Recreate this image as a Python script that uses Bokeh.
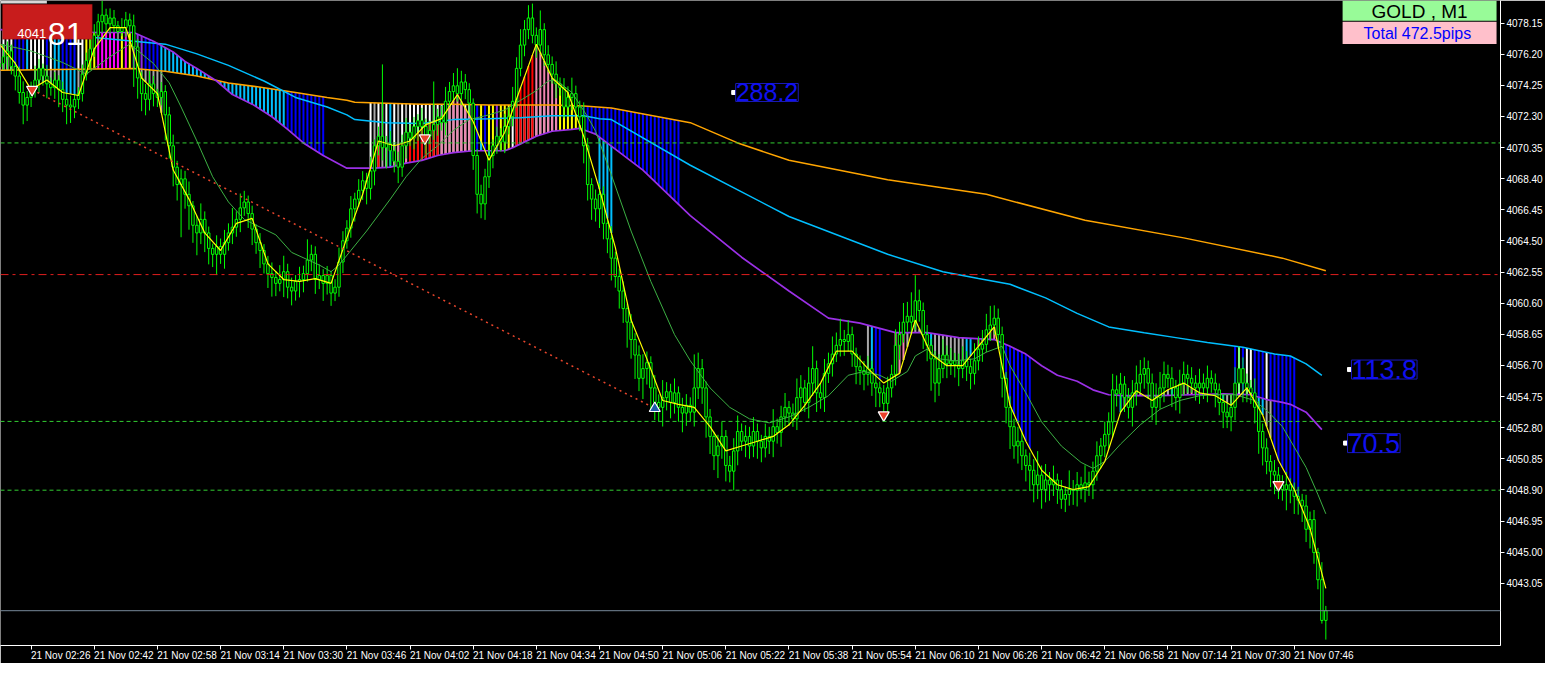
import numpy as np
from bokeh.plotting import figure
from bokeh.models import (Range1d, LinearAxis, FixedTicker, PrintfTickFormatter, Span,
                          Label, BoxAnnotation, ColumnDataSource)
from bokeh.embed import file_html
from bokeh.resources import INLINE

# ---------------- data (GOLD, M1, 21 Nov 02:18 .. 07:54, one bar per minute) ----------------
first_open = 4075.40
closes = [
 4075.62, 4076.04, 4076.40, 4075.43, 4074.83, 4073.80, 4073.01, 4073.49, 4073.98, 4074.58,
 4075.31, 4074.83, 4074.34, 4074.10, 4074.58, 4073.98, 4073.37, 4073.01, 4072.89, 4073.37,
 4073.73, 4074.95, 4075.80, 4076.53, 4077.38, 4078.23, 4078.65, 4078.10, 4078.47, 4077.98,
 4077.62, 4077.86, 4078.35, 4077.98, 4076.65, 4074.71, 4073.73, 4073.37, 4074.34, 4073.73,
 4073.49, 4073.86, 4072.40, 4070.46, 4069.12, 4068.03, 4068.39, 4067.42, 4066.70, 4065.48,
 4065.00, 4065.85, 4065.00, 4064.03, 4063.66, 4064.15, 4063.66, 4064.39, 4065.00, 4065.36,
 4065.85, 4066.57, 4066.94, 4066.21, 4065.24, 4064.39, 4063.90, 4063.06, 4062.45, 4062.21,
 4061.84, 4062.08, 4062.57, 4061.60, 4061.36, 4061.96, 4062.08, 4062.45, 4063.30, 4063.66,
 4062.08, 4062.33, 4061.84, 4062.33, 4061.23, 4061.60, 4063.18, 4064.51, 4065.30, 4066.51,
 4067.12, 4067.67, 4068.27, 4067.79, 4068.88, 4070.46, 4071.06, 4070.34, 4070.58, 4070.15,
 4069.49, 4069.12, 4070.46, 4071.31, 4070.94, 4071.67, 4072.04, 4071.67, 4071.06, 4071.43,
 4071.79, 4072.28, 4071.91, 4073.25, 4073.86, 4074.22, 4073.73, 4074.46, 4073.98, 4073.13,
 4069.85, 4067.42, 4066.82, 4068.52, 4069.85, 4070.46, 4071.06, 4070.70, 4071.67, 4072.28,
 4073.25, 4075.31, 4076.77, 4077.74, 4078.47, 4077.38, 4076.77, 4077.74, 4076.16, 4075.56,
 4074.95, 4074.34, 4074.10, 4072.89, 4073.49, 4073.73, 4072.89, 4072.28, 4070.46, 4068.03,
 4067.12, 4066.51, 4067.42, 4065.60, 4064.63, 4063.42, 4062.27, 4061.36, 4060.26, 4059.41,
 4058.32, 4057.35, 4055.89, 4056.50, 4056.87, 4055.29, 4054.38, 4054.07, 4054.68, 4055.05,
 4054.38, 4054.98, 4054.07, 4053.71, 4054.20, 4053.77, 4055.29, 4056.50, 4055.29, 4053.47,
 4052.25, 4051.04, 4051.65, 4052.25, 4050.43, 4050.07, 4051.34, 4052.56, 4051.95, 4052.25,
 4051.65, 4052.56, 4051.95, 4051.53, 4052.25, 4051.95, 4052.86, 4052.50, 4053.47, 4054.07,
 4053.71, 4053.35, 4054.68, 4055.29, 4054.38, 4055.59, 4056.50, 4054.98, 4054.68, 4056.20,
 4056.80, 4057.41, 4057.96, 4058.32, 4058.20, 4058.63, 4057.41, 4056.62, 4056.38, 4056.14,
 4056.50, 4055.59, 4055.29, 4054.98, 4054.32, 4055.29, 4056.14, 4057.96, 4058.63, 4059.41,
 4059.78, 4059.41, 4060.75, 4060.14, 4058.63, 4057.96, 4057.11, 4055.59, 4056.50, 4057.35,
 4056.80, 4056.99, 4056.74, 4056.50, 4056.99, 4056.62, 4056.20, 4056.99, 4057.72, 4058.02,
 4058.93, 4059.23, 4059.66, 4058.63, 4055.89, 4054.07, 4052.86, 4051.65, 4051.95, 4051.04,
 4050.43, 4050.13, 4049.22, 4049.83, 4048.92, 4049.52, 4049.22, 4049.52, 4048.92, 4048.31,
 4048.61, 4048.92, 4048.86, 4049.22, 4048.92, 4049.34, 4049.22, 4050.07, 4051.04, 4051.65,
 4052.38, 4053.16, 4055.17, 4054.92, 4055.53, 4054.68, 4054.07, 4054.98, 4055.59, 4056.14,
 4056.50, 4055.59, 4054.07, 4054.68, 4055.29, 4056.14, 4055.89, 4055.29, 4054.68, 4055.53,
 4056.14, 4055.89, 4055.59, 4055.29, 4055.59, 4055.29, 4055.89, 4055.59, 4055.17, 4054.38,
 4053.77, 4053.47, 4054.07, 4055.59, 4056.50, 4055.59, 4055.29, 4054.98, 4054.07, 4052.56,
 4051.53, 4050.68, 4050.07, 4049.83, 4049.22, 4048.92, 4049.22, 4048.86, 4048.49, 4048.25,
 4047.89, 4046.43, 4047.04, 4044.97, 4043.27, 4040.72, 4041.33]

upper_wick = [
 0.5, 0.8, 0.6, 0.4, 0.3, 0.6, 0.7, 0.4, 0.5, 0.9,
 0.6, 0.3, 0.7, 0.4, 0.5, 0.3, 0.5, 0.4, 0.6, 0.3,
 0.4, 0.6, 0.5, 0.8, 0.7, 0.5, 0.9, 0.4, 0.6, 0.5,
 0.3, 0.6, 0.5, 0.4, 0.7, 0.5, 0.4, 0.6, 0.8, 0.5,
 0.3, 0.6, 0.4, 0.5, 0.7, 0.4, 0.6, 0.5, 0.8, 0.3,
 0.6, 1.0, 0.5, 0.4, 0.3, 0.7, 0.5, 0.8, 0.6, 1.2,
 0.5, 0.9, 0.7, 0.4, 0.5, 0.3, 0.6, 0.4, 0.5, 0.7,
 0.4, 0.9, 1.0, 0.5, 0.6, 0.4, 0.8, 0.5, 1.3, 0.6,
 0.5, 0.7, 0.4, 0.6, 0.3, 0.5, 0.9, 0.6, 0.5, 0.8,
 0.4, 0.7, 0.6, 0.5, 0.9, 0.4, 0.6, 4.5, 0.5, 0.8,
 0.4, 0.6, 0.7, 0.9, 0.5, 0.6, 0.4, 0.8, 0.5, 0.6,
 2.7, 0.5, 0.7, 0.9, 0.6, 0.8, 1.1, 0.7, 0.5, 0.4,
 0.3, 0.4, 0.6, 0.5, 0.7, 0.4, 0.6, 0.5, 0.8, 0.6,
 0.9, 0.7, 1.0, 0.6, 0.8, 0.9, 0.5, 1.2, 0.4, 0.6,
 0.5, 0.8, 0.4, 0.6, 0.7, 1.0, 0.5, 0.4, 0.9, 0.5,
 0.4, 0.6, 0.7, 0.5, 0.3, 0.8, 0.4, 0.5, 0.6, 0.3,
 0.5, 0.4, 0.6, 0.9, 0.7, 0.4, 0.8, 0.5, 1.1, 0.6,
 0.5, 0.9, 0.4, 0.6, 0.7, 0.5, 2.1, 1.0, 0.6, 0.4,
 0.5, 0.3, 0.7, 0.9, 0.4, 0.6, 0.8, 1.0, 0.5, 0.7,
 0.6, 0.9, 0.5, 0.4, 0.8, 0.6, 1.1, 0.5, 0.7, 0.9,
 0.4, 0.6, 1.2, 0.8, 0.5, 1.0, 1.4, 0.5, 0.6, 0.9,
 0.7, 1.1, 0.8, 1.3, 0.6, 0.9, 0.5, 0.4, 0.7, 0.6,
 0.8, 0.5, 0.6, 0.4, 0.5, 0.7, 0.6, 1.0, 0.8, 1.2,
 0.9, 1.5, 1.6, 0.7, 0.5, 0.6, 0.4, 0.5, 0.9, 1.0,
 0.6, 0.8, 0.5, 0.7, 0.9, 0.6, 0.5, 1.1, 0.8, 0.9,
 1.0, 1.2, 0.8, 0.6, 0.5, 0.4, 0.7, 0.5, 0.9, 0.6,
 0.4, 0.8, 0.7, 1.5, 0.6, 1.0, 0.5, 0.9, 0.4, 0.6,
 0.5, 1.2, 0.6, 0.8, 0.5, 1.1, 0.7, 0.6, 0.9, 0.5,
 0.8, 0.6, 1.0, 0.9, 0.7, 0.5, 0.6, 0.8, 1.1, 0.9,
 0.7, 0.5, 0.6, 0.9, 1.0, 0.8, 0.6, 0.7, 0.5, 0.9,
 0.8, 0.6, 0.7, 0.5, 0.9, 0.6, 0.8, 0.5, 0.6, 0.4,
 0.5, 0.6, 0.8, 1.0, 1.4, 0.7, 0.6, 0.5, 0.9, 0.4,
 0.5, 0.6, 0.4, 0.7, 0.5, 0.6, 0.8, 0.4, 0.5, 0.6,
 0.4, 0.7, 0.5, 0.6, 0.3, 1.1, 0.3]

lower_wick = [
 0.6, 0.4, 0.8, 0.5, 0.9, 0.7, 1.2, 1.0, 0.6, 0.5,
 0.8, 0.6, 0.9, 0.5, 0.7, 1.1, 0.8, 1.2, 1.0, 0.7,
 0.6, 0.5, 0.4, 0.6, 0.5, 0.4, 0.7, 0.5, 0.6, 0.4,
 0.5, 0.3, 0.6, 0.5, 2.5, 1.3, 1.1, 1.0, 0.7, 0.8,
 0.6, 0.5, 1.6, 0.8, 1.2, 1.0, 3.3, 0.9, 1.5, 1.1,
 1.4, 0.7, 1.2, 1.0, 0.8, 1.3, 0.6, 0.9, 0.5, 0.7,
 0.6, 0.8, 0.5, 0.9, 1.0, 0.7, 1.1, 0.6, 0.9, 1.2,
 0.8, 0.5, 1.1, 0.7, 0.9, 0.6, 1.0, 0.8, 0.5, 0.7,
 0.9, 0.6, 1.1, 0.7, 0.8, 0.5, 0.6, 0.7, 0.5, 0.6,
 0.8, 0.5, 0.6, 1.0, 0.7, 0.9, 0.6, 0.8, 1.3, 0.9,
 0.7, 1.0, 0.6, 0.8, 0.5, 0.7, 0.9, 0.6, 1.1, 0.5,
 0.6, 0.7, 0.5, 0.8, 0.4, 0.6, 0.5, 0.7, 0.6, 0.8,
 0.9, 1.2, 0.9, 1.0, 0.7, 0.8, 0.5, 0.6, 0.7, 0.5,
 0.6, 0.4, 0.5, 0.7, 0.6, 0.5, 0.8, 0.6, 0.7, 0.5,
 0.6, 0.9, 0.5, 0.7, 0.6, 0.8, 0.5, 0.9, 1.1, 1.0,
 1.3, 0.8, 1.2, 1.0, 0.9, 1.4, 0.7, 1.1, 0.9, 1.6,
 1.2, 1.5, 0.8, 1.3, 1.0, 1.4, 1.1, 0.9, 1.2, 0.8,
 1.0, 0.7, 0.9, 1.2, 0.8, 0.6, 0.9, 0.7, 1.0, 1.3,
 1.1, 0.9, 1.4, 0.8, 1.0, 0.7, 1.2, 0.9, 0.6, 1.0,
 0.8, 0.7, 1.1, 0.9, 0.6, 0.8, 1.0, 0.7, 0.9, 0.6,
 0.8, 0.5, 0.7, 0.9, 0.6, 1.0, 0.8, 1.2, 0.7, 0.9,
 0.6, 0.8, 0.5, 0.7, 0.9, 0.6, 0.8, 1.1, 0.9, 1.0,
 0.7, 0.8, 1.2, 0.9, 1.0, 0.8, 0.6, 0.7, 0.9, 0.5,
 0.6, 0.8, 0.5, 0.7, 0.9, 1.0, 2.0, 1.2, 0.8, 0.6,
 0.9, 0.7, 0.8, 1.1, 0.6, 0.9, 1.0, 0.7, 0.6, 0.8,
 0.5, 0.7, 0.6, 0.9, 1.2, 1.0, 1.4, 0.8, 1.1, 0.9,
 1.0, 1.3, 1.1, 0.9, 1.2, 0.8, 1.0, 0.7, 0.9, 0.6,
 0.8, 0.7, 0.9, 1.0, 0.6, 0.8, 0.7, 0.9, 0.6, 0.8,
 0.7, 0.9, 1.0, 0.8, 1.1, 0.9, 0.7, 1.2, 0.8, 0.6,
 0.9, 1.0, 0.8, 1.1, 0.7, 0.9, 0.6, 1.2, 0.8, 1.0,
 0.7, 0.9, 0.6, 0.8, 1.0, 0.7, 0.9, 0.6, 1.1, 0.8,
 1.0, 0.7, 0.9, 0.8, 0.6, 1.2, 0.9, 0.7, 1.0, 1.4,
 1.1, 0.8, 1.0, 1.2, 0.9, 0.7, 1.3, 0.8, 1.1, 0.9,
 1.0, 0.8, 1.2, 0.7, 0.6, 0.2, 1.2]

# moving-average lines (bar index, price)
yellow_idx = list(range(0, 337, 4))
yellow_val = [
 4076.83, 4075.62, 4073.98, 4074.58, 4073.80, 4073.61, 4076.53, 4077.86, 4077.86, 4074.71,
 4073.73, 4068.94, 4067.12, 4065.00, 4063.90, 4065.60, 4065.91, 4063.06, 4062.08, 4061.96,
 4062.14, 4061.84, 4064.69, 4067.42, 4070.76, 4070.46, 4070.76, 4071.79, 4072.16, 4073.67,
 4071.97, 4069.55, 4071.31, 4074.10, 4076.83, 4074.71, 4073.80, 4071.06, 4067.73, 4064.09,
 4059.54, 4057.11, 4054.50, 4054.26, 4054.07, 4052.86, 4051.34, 4051.65, 4051.95, 4052.25,
 4052.98, 4054.20, 4055.59, 4057.59, 4057.59, 4056.50, 4055.59, 4056.20, 4059.54, 4057.41,
 4056.68, 4056.68, 4057.90, 4059.11, 4054.20, 4051.95, 4050.13, 4049.22, 4048.92, 4049.10,
 4050.68, 4053.77, 4055.11, 4054.50, 4055.17, 4055.59, 4054.98, 4054.80, 4054.20, 4055.29,
 4053.59, 4050.74, 4048.92, 4046.49, 4042.73]

green_idx = [0, 8, 16, 22, 28, 33, 39, 43, 46, 50, 54, 58, 62, 70, 74, 81, 84, 86, 89, 93,
             99, 103, 107, 111, 115, 119, 124, 128, 132, 136, 139, 141, 145, 149, 151, 155, 160, 165, 171, 175,
             180, 185, 190, 195, 200, 205, 210, 215, 219, 223, 226, 230, 232, 235, 238, 242, 247, 250, 254, 256,
             260, 264, 269, 274, 277, 280, 284, 289, 294, 299, 304, 308, 313, 318, 322, 325, 331, 334, 336]
green_val = [4076.83, 4076.40, 4075.68, 4074.95, 4076.04, 4076.83, 4075.62, 4074.40, 4072.89, 4070.76,
             4068.52, 4066.94, 4065.85, 4064.88, 4063.78, 4062.99, 4062.57, 4062.99, 4063.90, 4065.12,
             4067.12, 4068.52, 4069.67, 4070.46, 4071.43, 4072.10, 4072.40, 4072.70, 4073.31, 4073.92,
             4074.52, 4074.58, 4073.80, 4072.28, 4071.37, 4068.64, 4065.12, 4061.96, 4058.63, 4056.99,
             4055.29, 4054.07, 4053.35, 4053.10, 4053.47, 4054.07, 4054.80, 4056.08, 4056.32, 4056.08,
             4055.71, 4056.32, 4057.29, 4057.72, 4057.11, 4056.99, 4057.11, 4057.53, 4057.90, 4056.68,
             4054.98, 4053.16, 4051.65, 4050.62, 4050.25, 4050.68, 4051.77, 4052.98, 4053.95, 4054.50,
             4054.80, 4054.86, 4054.86, 4054.50, 4053.65, 4052.86, 4050.31, 4048.61, 4047.40]

purple_idx = [0, 15, 25, 34, 39, 44, 47, 50, 55, 59, 64, 69, 73, 77, 82, 88, 95, 99, 103, 107,
              111, 115, 120, 128, 130, 132, 136, 140, 145, 147, 149, 151, 163, 175, 188, 200, 210, 218, 227, 235,
              243, 252, 256, 260, 264, 268, 273, 277, 281, 285, 294, 302, 310, 317, 321, 325, 327, 331, 335]
purple_val = [4077.74, 4077.62, 4077.56, 4077.56, 4077.01, 4076.34, 4075.74, 4075.31, 4074.52, 4073.67,
              4073.07, 4072.28, 4071.49, 4070.64, 4069.85, 4069.06, 4069.06, 4069.12, 4069.37, 4069.55,
              4069.85, 4070.03, 4070.15, 4070.15, 4070.34, 4070.58, 4071.06, 4071.37, 4071.49, 4071.55,
              4071.37, 4071.19, 4068.94, 4066.09, 4063.48, 4061.36, 4059.66, 4059.35, 4058.75, 4058.75,
              4058.44, 4058.32, 4057.90, 4057.41, 4056.68, 4056.08, 4055.71, 4055.17, 4054.86, 4054.80,
              4054.80, 4054.86, 4054.92, 4054.86, 4054.56, 4054.38, 4054.26, 4053.77, 4052.68]

cyan_idx = [24, 42, 50, 58, 67, 75, 83, 88, 90, 98, 107, 115, 124, 132, 140, 148, 152, 155, 175,
            200, 225, 239, 248, 256, 265, 273, 281, 290, 298, 306, 315, 323, 327, 331, 335]
cyan_val = [4077.25, 4076.83, 4076.22, 4075.50, 4074.52, 4073.49, 4072.89, 4072.40, 4072.10,
            4071.91, 4071.85, 4072.10, 4072.16, 4072.22, 4072.34, 4072.34, 4072.16, 4072.10, 4069.24,
            4066.03, 4063.66, 4062.57, 4062.14, 4061.78, 4060.93, 4059.96, 4059.11, 4058.75, 4058.44,
            4058.14, 4057.84, 4057.41, 4057.29, 4056.80, 4056.08]

orange_idx = [0, 34, 42, 50, 58, 67, 75, 83, 88, 90, 98, 107, 115, 124, 140, 148, 155, 175, 187, 200,
              225, 250, 275, 300, 325, 336]
orange_val = [4075.19, 4075.31, 4075.13, 4074.83, 4074.40, 4074.10, 4073.80, 4073.49, 4073.31, 4073.19,
              4073.13, 4073.07, 4073.07, 4073.01, 4073.01, 4072.95, 4072.83, 4071.91, 4070.64, 4069.55,
              4068.33, 4067.42, 4065.79, 4064.69, 4063.42, 4062.63]

# ribbon histogram colour codes: (first bar index, one code per bar)
ribbon_a = [(0, "WWWWBBBLWWWWBWLLBBBBWWYYYMMMMMMYMY"),
            (34, "VVVBBBB" + "L" * 32 + "B" * 10),
            (94, "WGWGWLWGWGW" + "W" * 15 + "VBYBYYVYYY" + "W" * 12),
            (148, "B" * 25)]
ribbon_b = [(313, "BWBWWBBBWBBBBBBB")]
ribbon_c = [(9, "GGGGGGGLLLLGP"), (35, "GGGGGGG"), (96, "R"),
            (100, "PPRPRRRRRRRRPPPPPPPP"), (122, "LLL"), (131, "RRRRRPPPPPPYYYYYY"),
            (152, "LLLL"), (220, "GLBB"), (227, "PPPGPGG"), (235, "LLGGGGGGGGLL"),
            (248, "PPPPP"), (253, "LBBBBBBBB"),
            (284, "LGPPPGPPPGPPGLLGPGPGGLPGGLLGGPPG"), (318, "LLLGGBBBBBBB")]
ribbon_colors = {"W": "#FFFFFF", "B": "#0000FF", "L": "#00BFFF", "G": "#A8A8A8", "Y": "#FFFF00",
                 "M": "#FF00FF", "P": "#F084B0", "R": "#FF0000", "V": "#8A2BE2"}

# axes
price_ticks = [4078.15, 4076.20, 4074.25, 4072.30, 4070.35, 4068.40, 4066.45, 4064.50, 4062.55, 4060.60,
               4058.65, 4056.70, 4054.75, 4052.80, 4050.85, 4048.90, 4046.95, 4045.00, 4043.05]
time_tick_idx = list(range(-8, 329, 16))
time_labels = ["21 Nov 02:10", "21 Nov 02:26", "21 Nov 02:42", "21 Nov 02:58", "21 Nov 03:14",
               "21 Nov 03:30", "21 Nov 03:46", "21 Nov 04:02", "21 Nov 04:18", "21 Nov 04:34",
               "21 Nov 04:50", "21 Nov 05:06", "21 Nov 05:22", "21 Nov 05:38", "21 Nov 05:54",
               "21 Nov 06:10", "21 Nov 06:26", "21 Nov 06:42", "21 Nov 06:58", "21 Nov 07:14",
               "21 Nov 07:30", "21 Nov 07:46"]

# chart objects
green_levels = [4070.64, 4053.19, 4048.88]
red_level = 4062.39
bid_price = 4041.33
sell_idx = [8.25, 107.75, 224, 324]
sell_price = [4073.98, 4070.94, 4053.59, 4049.22]
cover_idx = [166]
cover_price = [4054.01]
note_texts = ["288.2", "113.8", "70.5"]
note_idx = [186.0, 342.0, 341.0]
note_price = [4073.80, 4056.44, 4051.83]
note_sizes = ["25px", "27px", "27px"]

FONT = "Liberation Sans"


def ref_x(px):
    return (px + 1) / 4.0


def ref_y(py):
    return 4079.564 - py * 0.060683


# ---------------- derived candle geometry ----------------
n = min(len(closes), len(upper_wick), len(lower_wick))
idx = np.arange(n, dtype=float)
c = np.array(closes[:n])
o = np.array([first_open] + closes[:n - 1])
top = np.maximum(o, c)
bot = np.minimum(o, c)
hi = top + np.array(upper_wick[:n])
lo = bot - np.array(lower_wick[:n])

yel = np.interp(idx, yellow_idx, yellow_val)
pur = np.interp(idx, purple_idx, purple_val)
cya = np.interp(idx, cyan_idx, cyan_val)
ora = np.interp(idx, orange_idx, orange_val)
c_base = np.where(idx < 42, ora, pur)


def ribbon(segs, y_from, y_to):
    xs, y0, y1, col = [], [], [], []
    for start, codes in segs:
        for k, ch in enumerate(codes):
            i = start + k
            if ch == "." or i >= n:
                continue
            xs.append(float(i))
            y0.append(float(y_from[i]))
            y1.append(float(y_to[i]))
            col.append(ribbon_colors[ch])
    return ColumnDataSource(dict(x=xs, y0=y0, y1=y1, color=col))


# ---------------- figure ----------------
p = figure(width=1545, height=663, output_backend="svg", toolbar_location=None,
           x_range=Range1d(0.25, 380.25), y_range=Range1d(ref_y(666), ref_y(0)),
           x_axis_location=None, y_axis_location=None, min_border=0,
           background_fill_color="black", border_fill_color="black", outline_line_color=None)
p.grid.visible = False

# ribbons
for src in (ribbon(ribbon_a, ora, pur), ribbon(ribbon_b, cya, pur), ribbon(ribbon_c, yel, c_base)):
    p.segment(x0="x", y0="y0", x1="x", y1="y1", color="color", line_width=2, source=src)

# slow moving averages
p.line(orange_idx, orange_val, line_color="#FFA500", line_width=1.5)
p.line(cyan_idx, cyan_val, line_color="#00BFFF", line_width=1.5)
p.line(purple_idx, purple_val, line_color="#9B30E6", line_width=1.7)

# candles
candles = ColumnDataSource(dict(x=idx, top=top, bot=bot, hi=hi, lo=lo))
p.segment(x0="x", y0="lo", x1="x", y1="hi", line_color="#00FF00", line_width=1, source=candles)
p.vbar(x="x", top="top", bottom="bot", width=0.62, fill_color="black",
       line_color="#00FF00", line_width=1, source=candles)

# fast moving averages
p.line(green_idx, green_val, line_color="#3CB043", line_width=1)
p.line(yellow_idx, yellow_val, line_color="#FFFF00", line_width=1.2)

# horizontal lines
for lvl in green_levels:
    p.add_layout(Span(location=lvl, dimension="width", line_color="#32CD32",
                      line_dash="4 3", line_width=1))
p.add_layout(Span(location=red_level, dimension="width", line_color="#E01E1E",
                  line_dash="8 4 3 4", line_width=1))
p.add_layout(Span(location=bid_price, dimension="width", line_color="#778899", line_width=1))

# trade line and arrows
p.line([sell_idx[0], cover_idx[0]], [sell_price[0], cover_price[0]],
       line_color="#E8452C", line_dash="2 4", line_width=1.5)
p.scatter(sell_idx, sell_price, marker="inverted_triangle", size=11,
          fill_color="#E8402A", line_color="white", line_width=1.2)
p.scatter(cover_idx, cover_price, marker="triangle", size=11,
          fill_color="#1E5AA8", line_color="white", line_width=1.2)

# text notes
p.scatter(note_idx, note_price, marker="square", size=4, fill_color="white", line_color="white")
for t, xi, yp, fs in zip(note_texts, note_idx, note_price, note_sizes):
    p.add_layout(Label(x=xi + 0.5, y=yp, text=t, text_font=FONT, text_font_size=fs,
                       text_color="#1010F0", text_baseline="middle", text_align="left",
                       border_line_color="#1A1AB8", border_line_width=1,
                       background_fill_color="black", background_fill_alpha=1.0))

# info boxes top right
p.add_layout(BoxAnnotation(left=ref_x(1360), right=ref_x(1516), top=ref_y(0), bottom=ref_y(21),
                           fill_color="#98FB98", fill_alpha=1.0, line_color=None))
p.add_layout(Label(x=ref_x(1438), y=ref_y(11), text="GOLD , M1", text_font=FONT,
                   text_font_size="19px", text_color="black", text_align="center",
                   text_baseline="middle"))
p.add_layout(BoxAnnotation(left=ref_x(1360), right=ref_x(1516), top=ref_y(22), bottom=ref_y(45),
                           fill_color="#FFC0CB", fill_alpha=1.0, line_color=None))
p.add_layout(Label(x=ref_x(1438), y=ref_y(34), text="Total  472.5pips", text_font=FONT,
                   text_font_size="16px", text_color="#0000FF", text_align="center",
                   text_baseline="middle"))

# price box top left
p.add_layout(BoxAnnotation(left=ref_x(0), right=ref_x(47), top=ref_y(0), bottom=ref_y(3),
                           fill_color="#D8D8D8", fill_alpha=1.0, line_color=None))
p.add_layout(BoxAnnotation(left=ref_x(2), right=ref_x(93), top=ref_y(4), bottom=ref_y(40),
                           fill_color="#C81C1C", fill_alpha=1.0, line_color="#7A0A0A", line_width=1))
p.add_layout(Label(x=ref_x(17), y=ref_y(34), text="4041", text_font=FONT, text_font_size="13px",
                   text_color="white", text_align="left", text_baseline="alphabetic"))
p.add_layout(Label(x=ref_x(48), y=ref_y(35), text="81", text_font=FONT, text_font_size="32px",
                   text_color="white", text_align="left", text_baseline="alphabetic"))

# right price axis
yax = LinearAxis(ticker=FixedTicker(ticks=price_ticks), formatter=PrintfTickFormatter(format="%.2f"))
yax.axis_line_color = "white"
yax.major_tick_line_color = "white"
yax.major_tick_out = 4
yax.major_tick_in = 0
yax.minor_tick_line_color = None
yax.major_label_standoff = 2
yax.major_label_text_color = "white"
yax.major_label_text_font = FONT
yax.major_label_text_font_size = "10px"
p.add_layout(yax, "right")

# bid price tag on the axis
p.add_layout(Label(x=380.25, y=bid_price, x_offset=3, text="4041.33", text_font=FONT,
                   text_font_size="10px", text_color="white", text_baseline="middle",
                   text_align="left", background_fill_color="#6F8091", background_fill_alpha=1.0))

# bottom time axis: minor ticks mark the bar, labels start right of the mark
label_pos = [t + 7.5 for t in time_tick_idx]
xax = LinearAxis(ticker=FixedTicker(ticks=label_pos, minor_ticks=time_tick_idx),
                 major_label_overrides={lp: lb for lp, lb in zip(label_pos, time_labels)})
xax.axis_line_color = "white"
xax.major_tick_line_color = None
xax.major_tick_out = 3
xax.major_tick_in = 0
xax.minor_tick_line_color = "white"
xax.minor_tick_out = 4
xax.minor_tick_in = 0
xax.major_label_standoff = 0
xax.major_label_text_color = "white"
xax.major_label_text_font = FONT
xax.major_label_text_font_size = "10px"
p.add_layout(xax, "below")

open("out.html", "w").write(file_html(p, INLINE))
